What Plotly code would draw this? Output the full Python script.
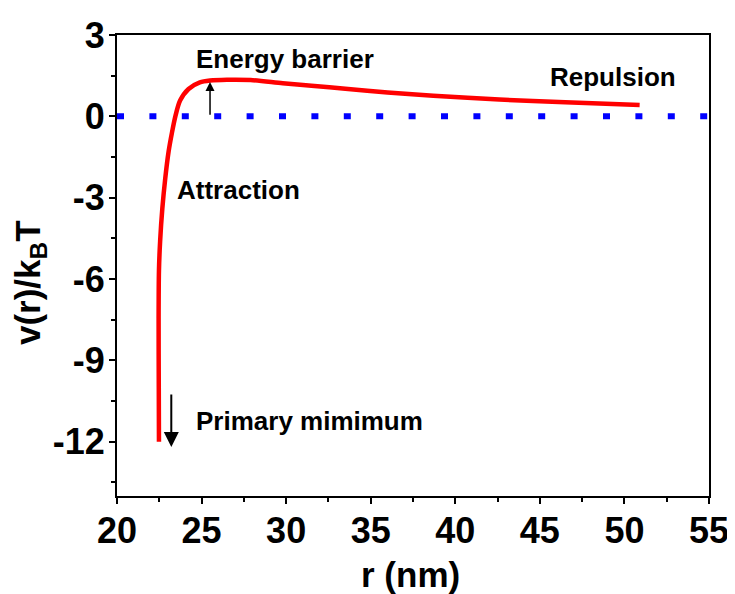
import plotly.graph_objects as go

# Interaction potential curve
r_nm = [22.48, 22.47, 22.46, 22.48, 22.55, 22.68, 22.85, 23.05, 23.25, 23.45, 23.73,
        24.23, 24.90, 25.50, 26.50, 27.90, 29.80, 31.50, 33.50, 36.00, 38.70,
        42.60, 46.50, 50.90]
v_kT = [-12.0, -10.0, -7.5, -5.7, -4.6, -3.4, -2.3, -1.3, -0.6, 0.0, 0.58,
        1.01, 1.25, 1.32, 1.35, 1.34, 1.22, 1.13, 1.02, 0.88, 0.76,
        0.62, 0.52, 0.42]

# zero reference line
zero_x = [20, 55]
zero_y = [0, 0]

x_ticks = [20, 25, 30, 35, 40, 45, 50, 55]
y_ticks = [3, 0, -3, -6, -9, -12]
y_tick_text = ["3", "0", "-3", "-6", "-9", "-12"]

FONT = "Liberation Sans, Arial, sans-serif"

fig = go.Figure()
fig.add_trace(go.Scatter(x=zero_x, y=zero_y, mode="lines",
                         line=dict(color="#0000ff", width=6, dash="7px,25.4px"),
                         hoverinfo="skip", showlegend=False))
fig.add_trace(go.Scatter(x=r_nm, y=v_kT, mode="lines",
                         line=dict(color="#ff0000", width=4.5, shape="spline", smoothing=0.8),
                         showlegend=False))

ann_font = dict(family=FONT, size=26, color="black", weight="bold")
title_font = dict(family=FONT, size=35, color="black", weight="bold")
# text labels
fig.add_annotation(x=24.55, y=2.1, text="Energy barrier", showarrow=False,
                   xanchor="left", yanchor="middle", font=ann_font)
fig.add_annotation(x=45.5, y=1.44, text="Repulsion", showarrow=False,
                   xanchor="left", yanchor="middle", font=ann_font)
fig.add_annotation(x=23.4, y=-2.71, text="Attraction", showarrow=False,
                   xanchor="left", yanchor="middle", font=ann_font)
fig.add_annotation(x=24.55, y=-11.22, text="Primary mimimum", showarrow=False,
                   xanchor="left", yanchor="middle", font=ann_font)
# arrows
fig.add_annotation(x=25.5, y=1.27, ax=25.5, ay=0.0, axref="x", ayref="y",
                   xref="x", yref="y", text="", showarrow=True,
                   arrowhead=2, arrowsize=1.2, arrowwidth=1.5, arrowcolor="black")
fig.add_annotation(x=23.21, y=-12.19, ax=23.21, ay=-10.2, axref="x", ayref="y",
                   xref="x", yref="y", text="", showarrow=True,
                   arrowhead=2, arrowsize=1.5, arrowwidth=2, arrowcolor="black")
# axis titles
fig.add_annotation(x=0.495, y=-0.171, xref="paper", yref="paper", text="r (nm)",
                   showarrow=False, xanchor="center", yanchor="middle", font=title_font)
fig.add_annotation(x=-0.147, y=0.464, xref="paper", yref="paper",
                   text="v(r)/k<sub>B</sub>T", textangle=-90,
                   showarrow=False, xanchor="center", yanchor="middle", font=title_font)

axis_common = dict(showline=True, linecolor="black", linewidth=2, mirror=True,
                   ticks="outside", ticklen=6, tickwidth=2, tickcolor="black",
                   showgrid=False, zeroline=False, automargin=False,
                   tickfont=dict(family=FONT, size=36, color="black", weight="bold"))

fig.update_xaxes(range=[20, 55], tickvals=x_ticks, ticklabelstandoff=-4,
                 minor=dict(ticks="outside", ticklen=4, tickwidth=2, tickcolor="black", dtick=2.5),
                 **axis_common)
fig.update_yaxes(range=[-14, 3], tickvals=y_ticks, ticktext=y_tick_text, ticklabelstandoff=-3,
                 minor=dict(ticks="outside", ticklen=4, tickwidth=2, tickcolor="black", dtick=1.5,
                            tick0=0),
                 **axis_common)

# page body adds an 8px offset, so the figure is sized to the remaining window
fig.update_layout(width=727, height=586, margin=dict(l=109, r=26, t=27, b=98),
                  plot_bgcolor="white", paper_bgcolor="white",
                  font=dict(family=FONT, color="black"))

fig.write_html("out.html")
